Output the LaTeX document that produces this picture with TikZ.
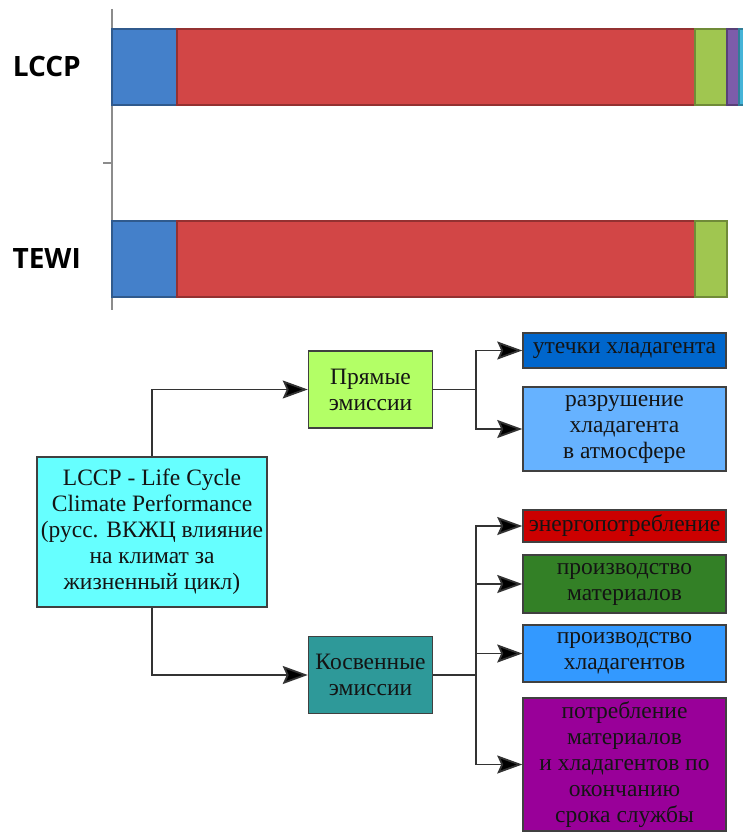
\documentclass[tikz,border=0pt]{standalone}
\usepackage{fontspec}
\setmainfont{Liberation Serif}
\newfontfamily\chartfont{Open Sans}
\usetikzlibrary{arrows.meta,positioning}
\definecolor{barblue}{HTML}{4480CA}
\definecolor{barred}{HTML}{D24646}
\definecolor{bargreen}{HTML}{A0C650}
\definecolor{barpurple}{HTML}{7D5CAA}
\definecolor{barcyan}{HTML}{45B4D8}
\definecolor{lccpcol}{HTML}{66FFFF}
\definecolor{directcol}{HTML}{B3FF66}
\definecolor{leakcol}{HTML}{0066CC}
\definecolor{destrcol}{HTML}{66B2FF}
\definecolor{energycol}{HTML}{CC0000}
\definecolor{matcol}{HTML}{338026}
\definecolor{refcol}{HTML}{3399FF}
\definecolor{eolcol}{HTML}{990099}
\definecolor{indirectcol}{HTML}{2E9999}

\begin{document}
\begin{tikzpicture}
[x=1pt, y=-1pt,
baseshape/.style={rectangle, draw=black!75, line width=1.5pt, text=black!92, align=center, inner sep=0pt, font=\fontsize{23.5}{26}\selectfont},
bigbox/.style={baseshape, minimum width=230, minimum height=150},
midbox/.style={baseshape, minimum width=124, minimum height=77},
sidebox/.style={baseshape, minimum width=203},
barlabel/.style={font=\chartfont\bfseries\fontsize{28}{32}\selectfont, anchor=east, inner sep=0pt},
arrow/.style={line width=1.8pt, draw=black!80, -{Stealth[length=25pt, width=18pt, inset=4pt, fill=black]}},
link/.style={line width=1.8pt, draw=black!80},
]
\useasboundingbox (0,0) rectangle (743,832);

\draw [line width=1.5pt, black!45] (112,9) -- (112,310);
\draw [line width=1.2pt, black!45] (103,163) -- (112,163);
\foreach \a/\b/\c in {112/177/barblue, 177/695/barred, 695/727/bargreen, 727/739/barpurple, 739/745/barcyan}
  \filldraw [fill=\c, draw=\c!70!black, line width=1.5pt] (\a,29) rectangle (\b,105);
\foreach \a/\b/\c in {112/177/barblue, 177/695/barred, 695/727/bargreen}
  \filldraw [fill=\c, draw=\c!70!black, line width=1.5pt] (\a,221) rectangle (\b,297);
\node (lccplab) [barlabel] at (81,67) {LCCP};
\node (tewilab) [barlabel] at (81,259) {TEWI};

\node (lccp) [bigbox, fill=lccpcol] at (152,532) {LCCP - Life Cycle\\Climate Performance\\(русс. ВКЖЦ влияние\\на климат за\\жизненный цикл)};
\node (direct) [midbox, fill=directcol] at (370.5,389.5) {Прямые\\эмиссии};
\node (indirect) [midbox, fill=indirectcol] at (370.5,675) {Косвенные\\эмиссии};

\node (leak) [sidebox, fill=leakcol, minimum height=35] at (624.5,350.5) {утечки хладагента};
\node (destr) [sidebox, fill=destrcol, minimum height=84] at (624.5,429) {разрушение\\хладагента\\в атмосфере};
\node (energy) [sidebox, fill=energycol, minimum height=32] at (624.5,526) {энергопотребление};
\node (matprod) [sidebox, fill=matcol, minimum height=58] at (624.5,584) {производство\\материалов};
\node (refprod) [sidebox, fill=refcol, minimum height=57] at (624.5,653.5) {производство\\хладагентов};
\node (eol) [sidebox, fill=eolcol, minimum height=133] at (624.5,764.5) {потребление\\материалов\\и хладагентов по\\окончанию\\срока службы};

\coordinate (dfork) at (476,389.5);
\coordinate (ifork) at (476,675);

\draw [arrow] (lccp.north) |- (direct.west);
\draw [arrow] (lccp.south) |- (indirect.west);
\draw [link] (direct.east) -- (dfork);
\draw [arrow] (dfork) |- (leak.west);
\draw [arrow] (dfork) |- (destr.west);
\draw [link] (indirect.east) -- (ifork);
\draw [arrow] (ifork) |- (energy.west);
\draw [arrow] (ifork) |- (matprod.west);
\draw [arrow] (ifork) |- (refprod.west);
\draw [arrow] (ifork) |- (eol.west);

\end{tikzpicture}
\end{document}
